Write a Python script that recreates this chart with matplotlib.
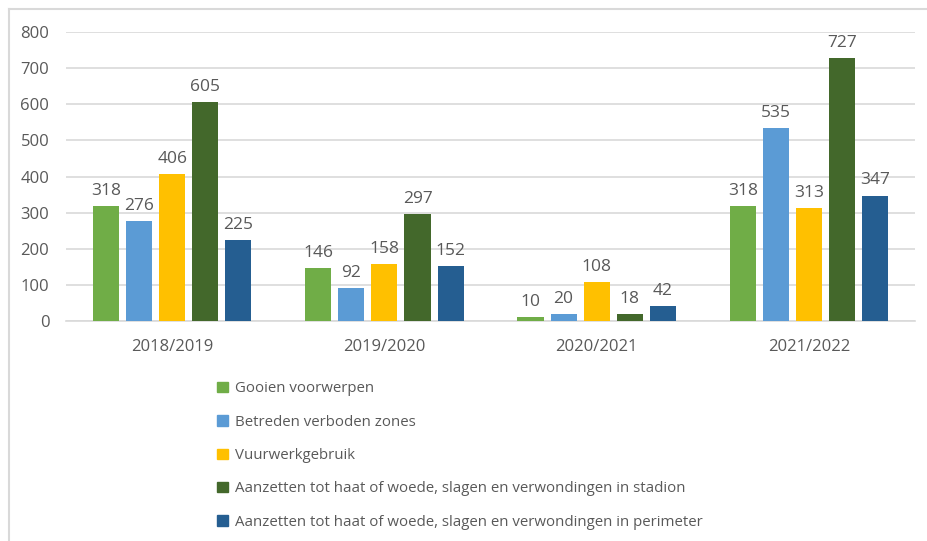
import numpy as np
import matplotlib.pyplot as plt
from matplotlib.lines import Line2D

plt.rcParams['font.family'] = ['Open Sans', 'DejaVu Sans']

# data
seasons = ['2018/2019', '2019/2020', '2020/2021', '2021/2022']
gooien = [318, 146, 10, 318]
betreden = [276, 92, 20, 535]
vuurwerk = [406, 158, 108, 313]
aanzetten_stadion = [605, 297, 18, 727]
aanzetten_perimeter = [225, 152, 42, 347]

series_labels = [
    'Gooien voorwerpen',
    'Betreden verboden zones',
    'Vuurwerkgebruik',
    'Aanzetten tot haat of woede, slagen en verwondingen in stadion',
    'Aanzetten tot haat of woede, slagen en verwondingen in perimeter',
]
series = [gooien, betreden, vuurwerk, aanzetten_stadion, aanzetten_perimeter]
colors = ['#70AD47', '#5B9BD5', '#FFC000', '#43682B', '#255E91']

text_color = '#595959'
grid_color = '#D9D9D9'

fig = plt.figure(figsize=(9.27, 5.41), dpi=100)
ax = fig.add_axes([0.0712, 0.4067, 0.916, 0.534])

x = np.arange(len(seasons))
step = 0.156
width = 0.123
for i, (vals, lab, col) in enumerate(zip(series, series_labels, colors)):
    pos = x + (i - 2) * step
    bars = ax.bar(pos, vals, width=width, color=col, label=lab, zorder=3)
    for b, v in zip(bars, vals):
        ax.text(b.get_x() + b.get_width() / 2, v + 20, str(v),
                ha='center', va='bottom', fontsize=12.5, color=text_color)

ax.set_xlim(-0.5, len(seasons) - 0.5)
ax.set_ylim(0, 800)
ax.set_yticks(range(0, 801, 100))
ax.set_xticks(x)
ax.set_xticklabels(seasons)
ax.yaxis.grid(True, color=grid_color, linewidth=1.2, zorder=0)
ax.set_axisbelow(True)
for s in ['top', 'right', 'left']:
    ax.spines[s].set_visible(False)
ax.spines['bottom'].set_color(grid_color)
ax.spines['bottom'].set_linewidth(1.2)
ax.tick_params(axis='both', length=0, colors=text_color, labelsize=12)
ax.tick_params(axis='x', pad=13)
ax.tick_params(axis='y', pad=12)

handles = [plt.Rectangle((0, 0), 1, 1, color=c) for c in colors]
leg = fig.legend(handles, series_labels, loc='upper left',
                 bbox_to_anchor=(0.228, 0.306), frameon=False,
                 fontsize=10.8, handlelength=0.7, handleheight=0.7,
                 handletextpad=0.45, labelspacing=1.22, borderaxespad=0)
for t in leg.get_texts():
    t.set_color(text_color)

# chart border (top and left visible)
fig.add_artist(Line2D([9 / 927, 9 / 927], [0, 1 - 9 / 541],
                      transform=fig.transFigure, color=grid_color, linewidth=1.5))
fig.add_artist(Line2D([9 / 927, 1], [1 - 9 / 541, 1 - 9 / 541],
                      transform=fig.transFigure, color=grid_color, linewidth=1.5))

fig.savefig('out.png', dpi=100)
